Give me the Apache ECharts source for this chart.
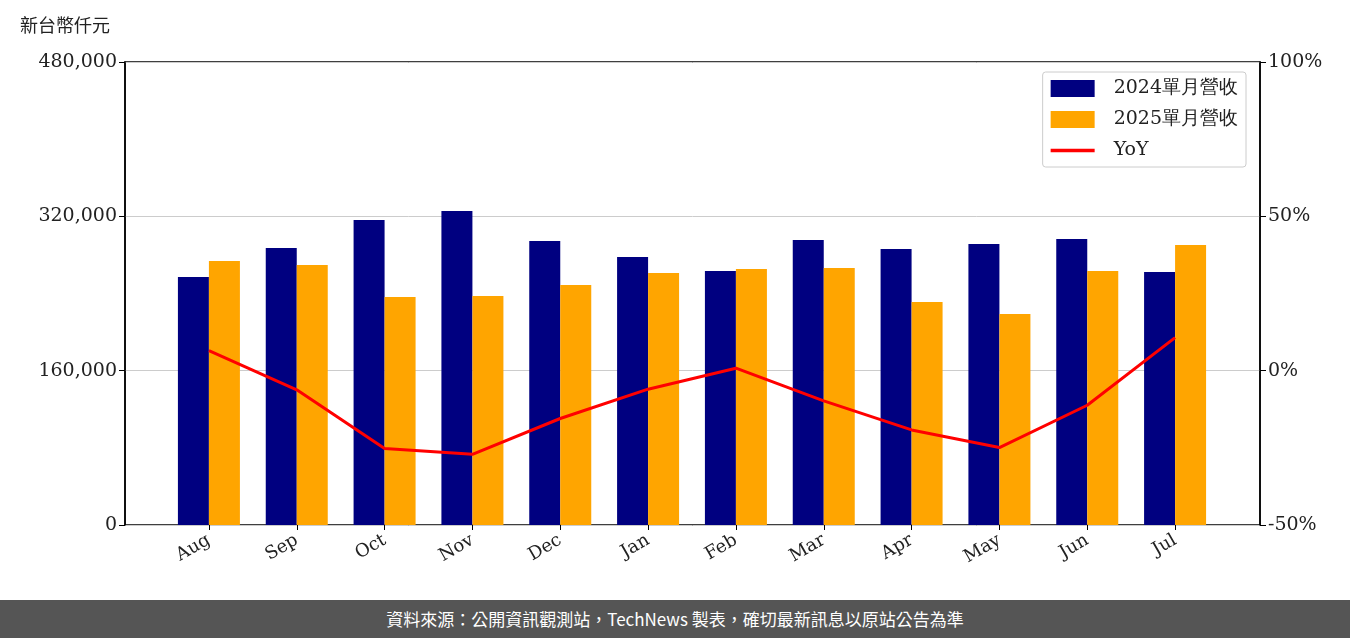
<!DOCTYPE html>
<html><head><meta charset="utf-8">
<script src="https://cdn.jsdelivr.net/npm/echarts@6/dist/echarts.min.js"></script>
<style>html,body{margin:0;padding:0;background:#fff}#c{width:1350px;height:600px}#f{height:38px;background:#555;color:#fff;font:17px "Noto Sans CJK TC",sans-serif;text-align:center;line-height:38px}</style>
</head><body><div id="c"></div><div id="f">資料來源：公開資訊觀測站，TechNews 製表，確切最新訊息以原站公告為準</div>
<script>
const categories=['Aug','Sep','Oct','Nov','Dec','Jan','Feb','Mar','Apr','May','Jun','Jul'];
const rev2024=[257100,287200,316200,325500,294400,277800,263300,295500,286100,291300,296500,262300];
const rev2025=[273700,269500,236400,237400,248800,261200,265400,266400,231200,218700,263300,290300];
const yoy=[6.5,-6.2,-25.2,-27.1,-15.5,-6.0,0.8,-9.8,-19.2,-24.9,-11.2,10.7];
const F='DejaVu Serif';
const c=echarts.init(document.getElementById('c'));
c.setOption({
 animation:false,
 grid:[{left:125,right:90,top:62,bottom:75,show:true,borderColor:'#000',borderWidth:1.5,backgroundColor:'transparent'},
       {left:165,right:131,top:62,bottom:75}],
 graphic:[{type:'text',left:20,top:16,style:{text:'新台幣仟元',font:'18px "Noto Sans CJK TC"',fill:'#222'}}],
 legend:{right:104,top:72,orient:'vertical',itemGap:12,itemWidth:44,itemHeight:17,borderColor:'#ccc',borderWidth:1,borderRadius:3,padding:[7,8,7,8],textStyle:{fontFamily:F,fontSize:19,color:'#222',padding:[0,0,0,14]},
  data:[{name:'2024單月營收',icon:'rect'},{name:'2025單月營收',icon:'rect'},{name:'YoY',icon:'path://M0,7h40v3h-40z'}]},
 xAxis:[{type:'value',gridIndex:0,min:0,max:1,axisLine:{show:false},axisTick:{show:false},axisLabel:{show:false},splitLine:{show:false}},
  {type:'category',gridIndex:1,data:categories,axisTick:{show:true,alignWithLabel:true,length:5,lineStyle:{color:'#000'}},axisLine:{show:false},
  axisLabel:{rotate:30,fontFamily:F,fontSize:18,color:'#222',margin:14}}],
 yAxis:[{type:'value',gridIndex:0,min:0,max:480000,interval:160000,axisLine:{show:true,lineStyle:{color:'#000',width:1.5}},axisTick:{show:true,length:6,lineStyle:{color:'#000'}},
   axisLabel:{fontFamily:F,fontSize:19,color:'#222',formatter:v=>v.toLocaleString('en-US')},splitLine:{lineStyle:{color:'#ccc'}}},
  {type:'value',gridIndex:0,min:-50,max:100,interval:50,axisLine:{show:true,lineStyle:{color:'#000',width:1.5}},axisTick:{show:true,length:6,lineStyle:{color:'#000'}},
   axisLabel:{fontFamily:F,fontSize:19,color:'#222',formatter:'{value}%'},splitLine:{show:false}},
  {type:'value',gridIndex:1,min:0,max:480000,show:false},
  {type:'value',gridIndex:1,min:-50,max:100,show:false}],
 series:[
  {name:'2024單月營收',type:'bar',xAxisIndex:1,yAxisIndex:2,data:rev2024,barWidth:31,barGap:'0%',itemStyle:{color:'#000080'}},
  {name:'2025單月營收',type:'bar',xAxisIndex:1,yAxisIndex:2,data:rev2025,barWidth:31,itemStyle:{color:'#FFA500'}},
  {name:'YoY',type:'line',xAxisIndex:1,yAxisIndex:3,data:yoy,symbol:'none',lineStyle:{color:'#ff0000',width:3},itemStyle:{color:'#ff0000'}}
 ]
});
</script></body></html>
